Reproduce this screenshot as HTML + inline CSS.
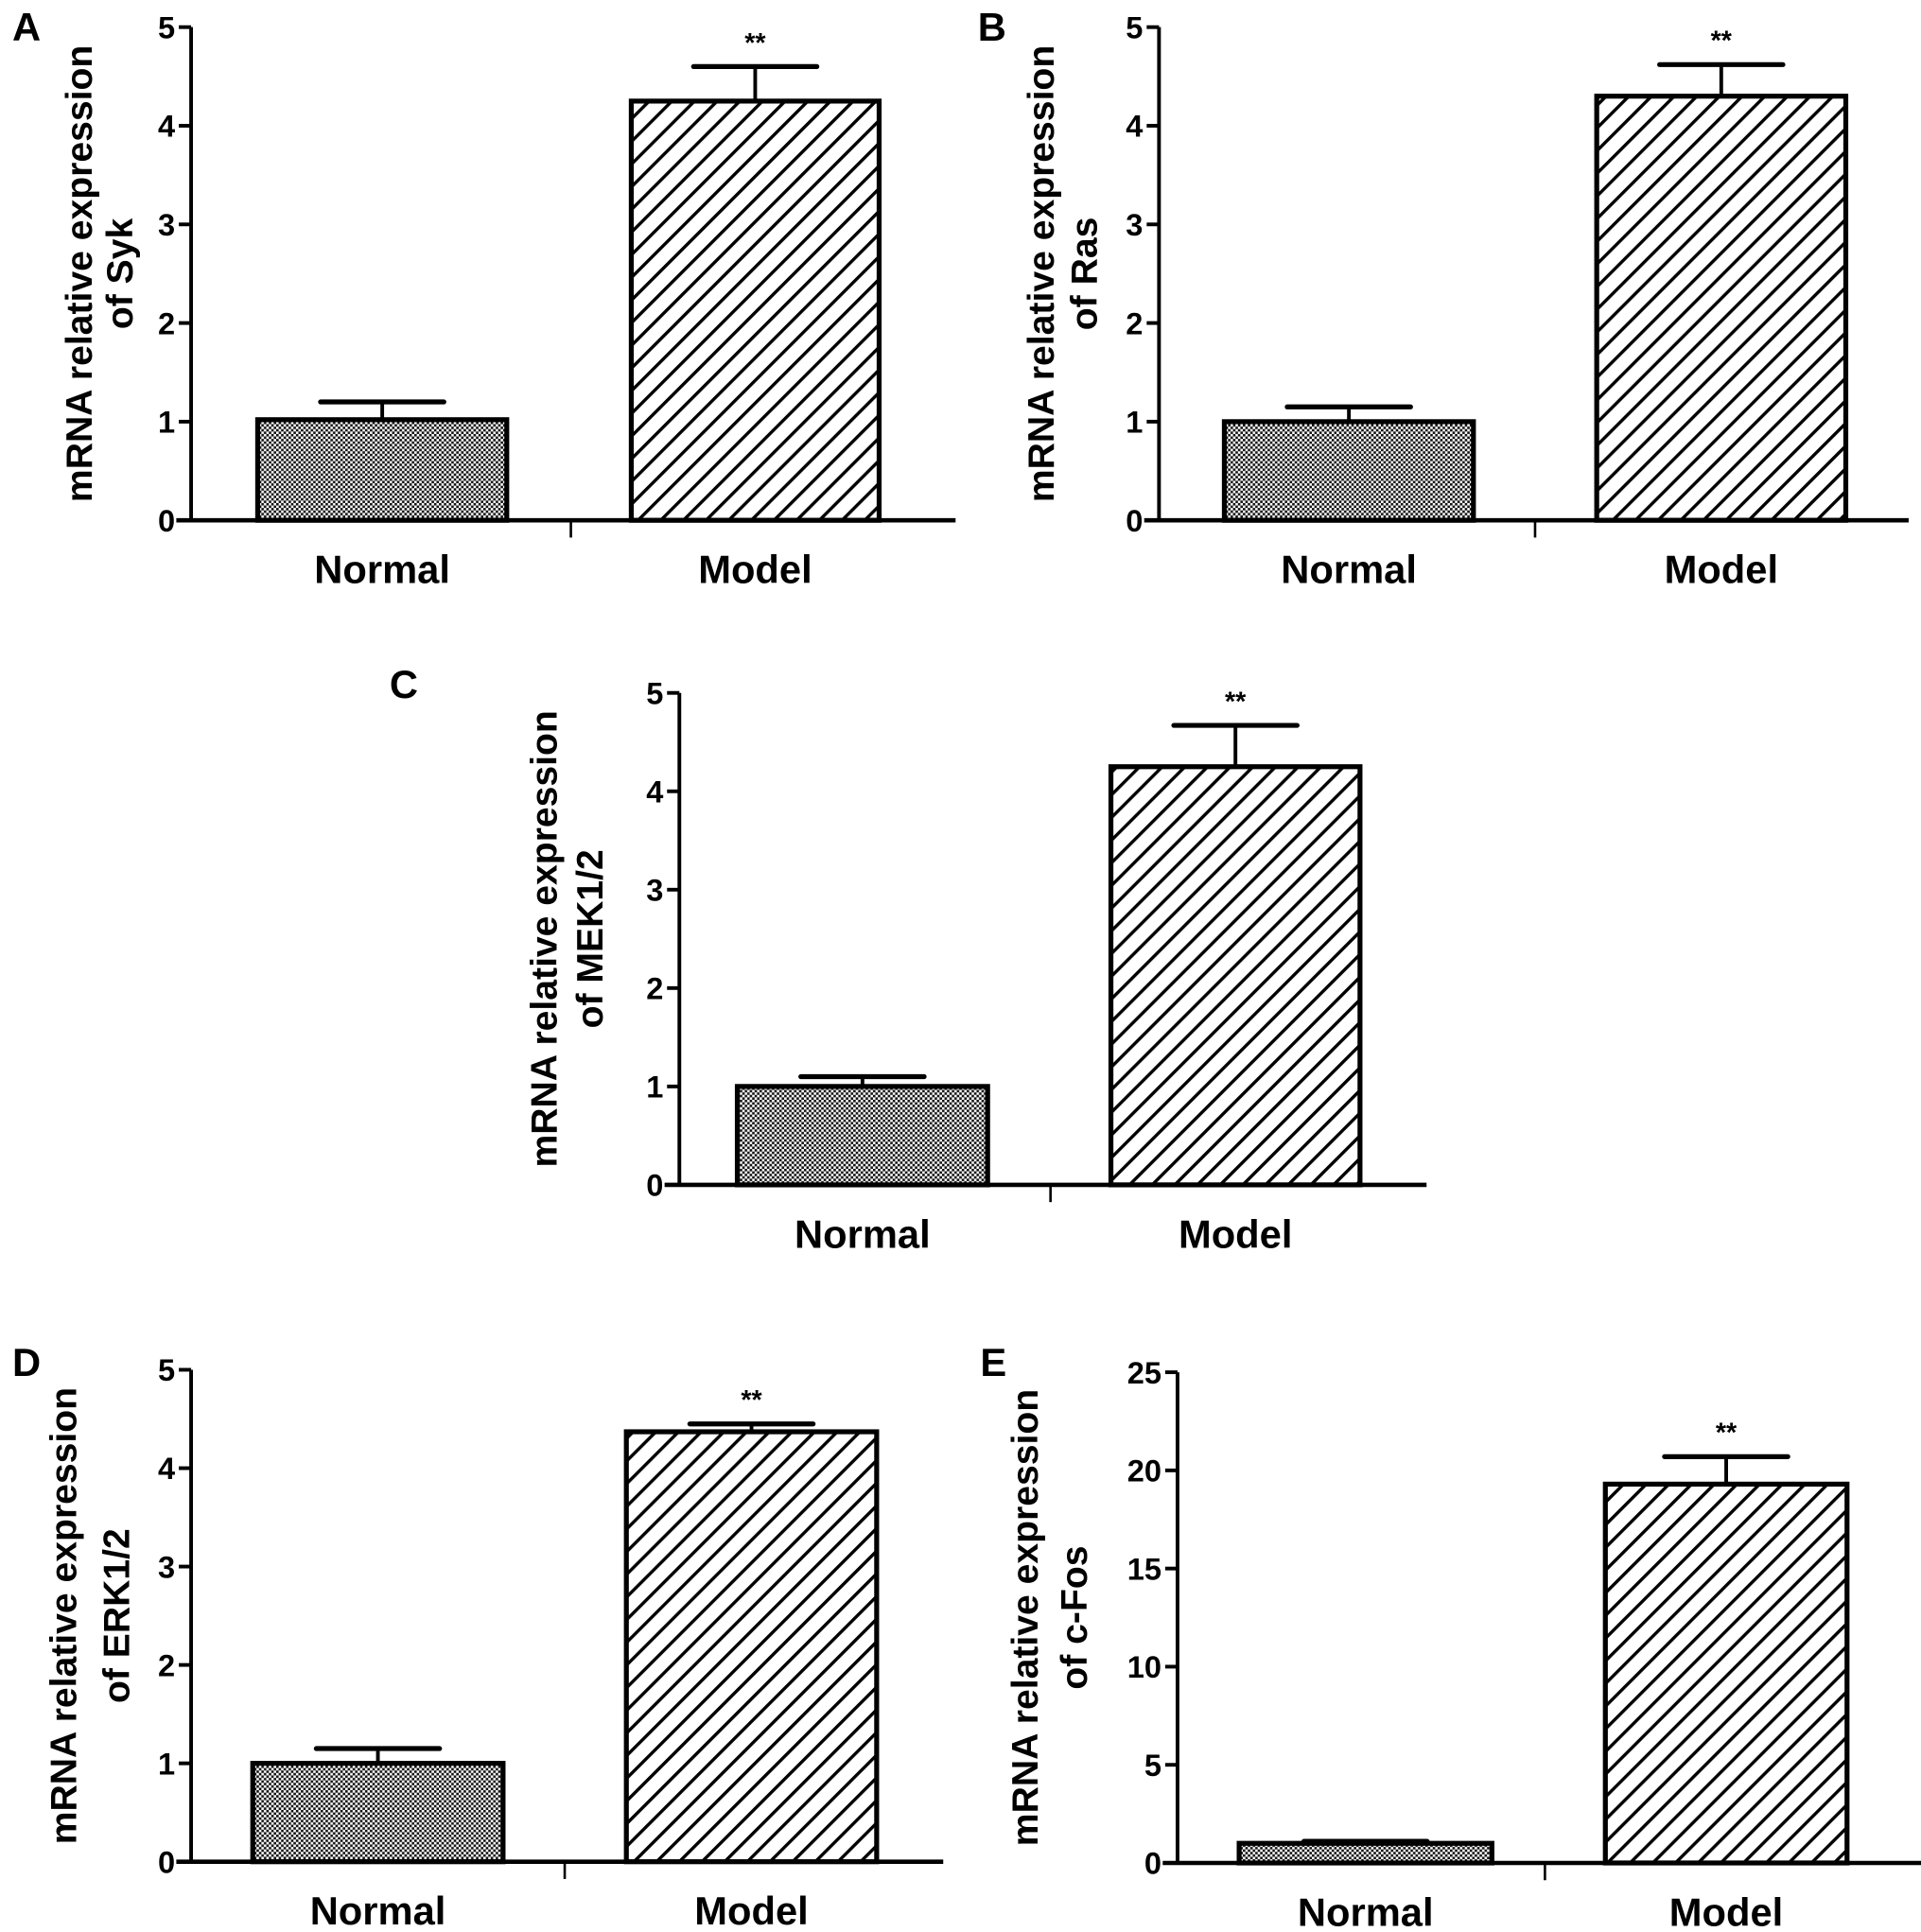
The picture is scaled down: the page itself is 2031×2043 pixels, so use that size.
<!DOCTYPE html>
<html><head><meta charset="utf-8"><style>
html,body{margin:0;padding:0;background:#fff}
svg{display:block}
text{font-family:"Liberation Sans",Arial,sans-serif;font-weight:bold;fill:#000}
</style></head><body>
<svg id="fig" width="2031" height="2043" viewBox="0 0 1558 1567" preserveAspectRatio="none" xmlns="http://www.w3.org/2000/svg">
<defs>
<pattern id="dots" width="4" height="4" patternUnits="userSpaceOnUse">
<rect width="4" height="4" fill="#fff"/><rect width="2" height="2" fill="#111"/><rect x="2" y="2" width="2" height="2" fill="#111"/>
</pattern>
<pattern id="hatch" width="13" height="13" patternUnits="userSpaceOnUse" patternTransform="rotate(45)">
<rect width="13" height="13" fill="#fff"/><rect x="0" y="0" width="2.6" height="13" fill="#000"/>
</pattern>
</defs>
</svg>
<script>
const categories = ["Normal","Model"];
const panelLetters = ["A","B","C","D","E"];
const genes = ["Syk","Ras","MEK1/2","ERK1/2","c-Fos"];
const meansA = [1.02, 4.25], errA = [1.2, 4.6];
const meansB = [1.0, 4.3],  errB = [1.15, 4.62];
const meansC = [1.0, 4.25], errC = [1.1, 4.67];
const meansD = [1.0, 4.37], errD = [1.15, 4.45];
const meansE = [1.0, 19.3], errE = [1.1, 20.7];
const ticks5 = [0,1,2,3,4,5];
const ticks25 = [0,5,10,15,20,25];
const sig = ["", "**"];

const layouts = [
 {ax:155, top:22, zero:422, right:775, tick:463, bars:[[209,411],[512,713]], lx:10, ly:22, yl:[65,98], m:meansA, e:errA, t:ticks5, max:5},
 {ax:940, top:22, zero:422, right:1548, tick:1245, bars:[[993,1195],[1295,1497]], lx:793, ly:22, yl:[845,880], m:meansB, e:errB, t:ticks5, max:5},
 {ax:551, top:562, zero:961, right:1157, tick:852, bars:[[598,801],[901,1103]], lx:316, ly:555, yl:[442,479], m:meansC, e:errC, t:ticks5, max:5},
 {ax:155, top:1111, zero:1510, right:765, tick:458, bars:[[205,408],[508,711]], lx:10, ly:1105, yl:[52,95], m:meansD, e:errD, t:ticks5, max:5},
 {ax:955, top:1113, zero:1511, right:1558, tick:1253, bars:[[1005,1210],[1302,1498]], lx:795, ly:1105, yl:[832,872], m:meansE, e:errE, t:ticks25, max:25}
];
const svg = document.getElementById('fig');
const NS = "http://www.w3.org/2000/svg";
function mk(tag, attrs, parent){const el=document.createElementNS(NS,tag);for(const k in attrs)el.setAttribute(k,attrs[k]);parent.appendChild(el);return el;}

layouts.forEach((L,i)=>{
  const g = mk('g',{},svg);
  
  
  const y = v => L.zero - (v/L.max)*(L.zero-L.top);
  const lt = mk('text',{x:L.lx,y:L.ly+11,'font-size':32},g); lt.textContent=panelLetters[i];
  
  
  const cy=(L.top+L.zero)/2;
  const t1=mk('text',{x:L.yl[0],y:cy,'font-size':30,'text-anchor':'middle',transform:`rotate(-90 ${L.yl[0]} ${cy})`,'dominant-baseline':'central'},g);
  t1.textContent='mRNA relative expression';
  
  
  const t2=mk('text',{x:L.yl[1],y:cy,'font-size':30,'text-anchor':'middle',transform:`rotate(-90 ${L.yl[1]} ${cy})`,'dominant-baseline':'central'},g);
  t2.textContent='of '+genes[i];
  
  
  L.m.forEach((v,j)=>{
    const [x0,x1]=L.bars[j]; const cx=(x0+x1)/2;
    const eb=mk('line',{x1:cx,x2:cx,y1:y(v),y2:y(L.e[j]),stroke:'#000','stroke-width':3},g);
    
    
    const cap=mk('line',{x1:cx-50,x2:cx+50,y1:y(L.e[j]),y2:y(L.e[j]),stroke:'#000','stroke-width':4,'stroke-linecap':'round'},g);
    
    
    const r=mk('rect',{x:x0,y:y(v),width:x1-x0,height:L.zero-y(v),fill:j==0?'url(#dots)':'url(#hatch)',stroke:'#000','stroke-width':4},g);
    
    
    if(sig[j]){const s=mk('text',{x:cx,y:y(L.e[j])-12,'font-size':22,'text-anchor':'middle'},g);s.textContent=sig[j];
      
      }
    const cl=mk('text',{x:cx,y:L.zero+51,'font-size':32,'text-anchor':'middle'},g); cl.textContent=categories[j];
    
    
  });
  const ya=mk('line',{x1:L.ax,x2:L.ax,y1:L.top,y2:L.zero,stroke:'#000','stroke-width':3},g);
  
  
  const xa=mk('line',{x1:L.ax-12,x2:L.right,y1:L.zero,y2:L.zero,stroke:'#000','stroke-width':3.5},g);
  
  
  const xt=mk('line',{x1:L.tick,x2:L.tick,y1:L.zero,y2:L.zero+14,stroke:'#000','stroke-width':2},g);
  
  
  L.t.forEach(tv=>{
    const tk=mk('line',{x1:L.ax-10,x2:L.ax,y1:y(tv),y2:y(tv),stroke:'#000','stroke-width':3},g);
    
    
    const tl=mk('text',{x:L.ax-13,y:y(tv)+9,'font-size':25,'text-anchor':'end'},g); tl.textContent=tv;
    
    
  });
});
</script>
</body></html>
